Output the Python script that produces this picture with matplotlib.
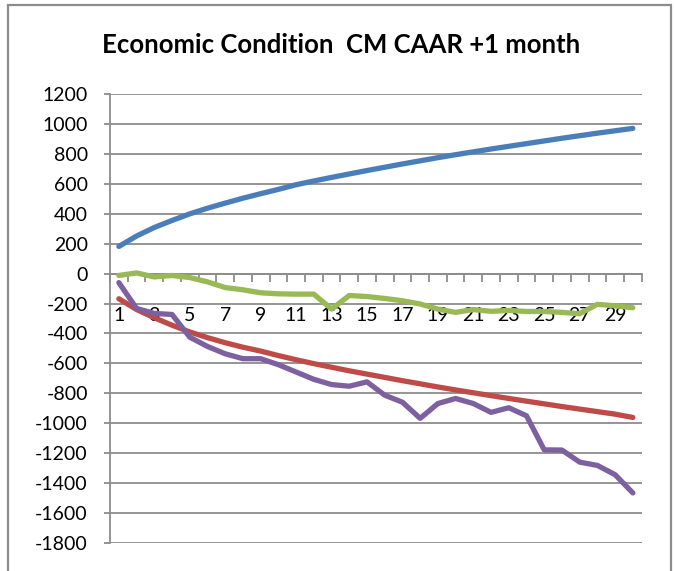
import matplotlib.pyplot as plt
import matplotlib.patches as mpatches
import numpy as np

plt.rcParams['font.family'] = ['Lato', 'DejaVu Sans']
plt.rcParams['axes.unicode_minus'] = False

periods = list(range(1, 31))
blue = [182, 252, 309, 356, 400, 438, 472, 505, 535, 564, 595, 620, 644, 667, 690,
        712, 734, 755, 776, 796, 815, 834, 852, 870, 888, 906, 923, 940, 956, 972]
red = [-168, -240, -295, -345, -390, -428, -462, -492, -518, -548, -576, -602, -626, -650, -672,
       -694, -716, -737, -758, -778, -797, -816, -835, -853, -871, -889, -906, -923, -940, -962]
green = [-12, 5, -22, -12, -26, -55, -93, -108, -128, -135, -137, -137, -237, -146, -153,
         -166, -181, -203, -237, -259, -240, -252, -246, -253, -253, -259, -268, -205, -215, -228]
purple = [-60, -233, -266, -273, -425, -487, -536, -569, -569, -609, -658, -707, -742, -753, -724,
          -813, -860, -968, -869, -835, -869, -928, -897, -951, -1179, -1180, -1261, -1283, -1345, -1467]

colors = ['#4A7EBB', '#BE4B48', '#98B954', '#7D60A0']
grid_c = '#8C8C8C'

fig = plt.figure(figsize=(6.75, 5.71), dpi=100)
ax = fig.add_axes([110/675, 1-542.7/571, (641.7-110)/675, (542.7-94.3)/571])

for s, c in zip([blue, red, green, purple], colors):
    ax.plot(periods, s, color=c, lw=3.8, solid_capstyle='round', solid_joinstyle='round', zorder=3)

ax.set_xlim(0.5, 30.5)
ax.set_ylim(-1800, 1200)
ax.set_yticks(np.arange(-1800, 1201, 200))
ax.yaxis.grid(True, color=grid_c, lw=1.3)
ax.set_axisbelow(True)

for sp in ['top', 'right']:
    ax.spines[sp].set_visible(False)
ax.spines['left'].set_color(grid_c)
ax.spines['left'].set_linewidth(1.3)
ax.spines['bottom'].set_position(('data', 0))
ax.spines['bottom'].set_color(grid_c)
ax.spines['bottom'].set_linewidth(1.3)

ax.tick_params(axis='y', length=4, width=1.3, color=grid_c, labelsize=14, pad=12)
ax.set_xticks(periods[::2])
ax.set_xticklabels([str(p) for p in periods[::2]])
ax.set_xticks(np.arange(0.5, 31, 1), minor=True)
ax.tick_params(axis='x', which='major', length=0, labelsize=14, pad=24)
ax.tick_params(axis='x', which='minor', length=6, width=1.3, color=grid_c, direction='out')

fig.text(341/675, 1-45/571, 'Economic Condition  CM CAAR +1 month', ha='center', va='center',
         fontsize=18.5, fontweight='bold')

fig.patches.append(mpatches.Rectangle((8/675, -0.05), (671-8)/675, 1.05-5/571, transform=fig.transFigure,
                                      fill=False, edgecolor='#8C8C8C', lw=1.6))

fig.savefig('out.png', dpi=100)
